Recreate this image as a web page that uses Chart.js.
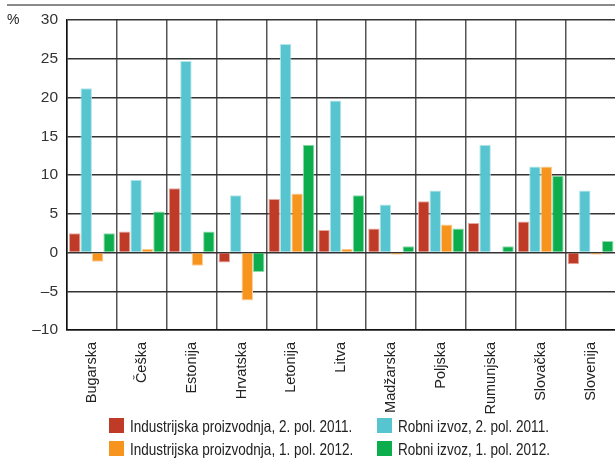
<!DOCTYPE html>
<html>
<head>
<meta charset="utf-8">
<script src="https://cdn.jsdelivr.net/npm/chart.js@4"></script>
<style>
  html, body { margin:0; padding:0; background:#fff; overflow:hidden; width:615px; height:459px; }
  #wrap { position:absolute; left:0; top:0; width:620px; height:459px; }
  .txt { position:absolute; font-family:'Liberation Sans Narrow','Arial Narrow',sans-serif; color:#222; white-space:nowrap; }
  #topline { position:absolute; left:7px; top:4px; width:610px; height:2px; background:#8a8a8a; }
  .lg { position:absolute; font-family:'Liberation Sans Narrow','Arial Narrow',sans-serif; font-size:16.5px; color:#222; white-space:nowrap; line-height:16px; transform:scaleX(0.82); transform-origin:0 50%; }
  .box { position:absolute; width:15px; height:15px; }
</style>
</head>
<body>
<div id="topline"></div>
<div id="wrap"><canvas id="c" width="620" height="459"></canvas></div>
<div class="txt" style="left:7px; top:11px; font-size:14px;">%</div>
<div id="legend"></div>
<script>
const categories = ['Bugarska','Češka','Estonija','Hrvatska','Letonija','Litva','Madžarska','Poljska','Rumunjska','Slovačka','Slovenija'];
const seriesNames = ['Industrijska proizvodnja, 2. pol. 2011.','Robni izvoz, 2. pol. 2011.','Industrijska proizvodnja, 1. pol. 2012.','Robni izvoz, 1. pol. 2012.'];
const indProd2011H2 = [2.5, 2.7, 8.3, -1.3, 6.9, 2.9, 3.1, 6.6, 3.8, 4.0, -1.5];
const exports2011H2 = [21.2, 9.4, 24.7, 7.4, 26.9, 19.6, 6.2, 8.0, 13.9, 11.1, 8.0];
const indProd2012H1 = [-1.2, 0.5, -1.7, -6.2, 7.6, 0.5, -0.3, 3.6, 0.1, 11.1, -0.3];
const exports2012H1 = [2.5, 5.3, 2.7, -2.5, 13.9, 7.4, 0.8, 3.1, 0.8, 9.9, 1.5];
const yTicks = [-10, -5, 0, 5, 10, 15, 20, 25, 30];

const colors = ['#BF3A27', '#56C5D0', '#F7941D', '#0BAD4C'];
const borders = ['#E6A89E', '#B5E6EA', '#FBD0A0', '#8FD9AB'];
const seriesData = [indProd2011H2, exports2011H2, indProd2012H1, exports2012H1];

const FONT = "'Liberation Sans Narrow','Arial Narrow',sans-serif";

new Chart(document.getElementById('c'), {
  type: 'bar',
  data: {
    labels: categories,
    datasets: seriesData.map((d, i) => ({
      label: seriesNames[i],
      data: d,
      backgroundColor: colors[i],
      borderColor: borders[i],
      borderWidth: 1,
      categoryPercentage: 0.92,
      barPercentage: 1.0
    }))
  },
  options: {
    responsive: false,
    animation: false,
    devicePixelRatio: 1,
    layout: { padding: { left: 0, right: 1, top: 20, bottom: 0 } },
    plugins: { legend: { display: false }, tooltip: { enabled: false } },
    scales: {
      x: {
        offset: true,
        grid: { offset: true, color: '#555', lineWidth: 1.5, drawTicks: false },
        border: { color: '#111', width: 1.5 },
        ticks: {
          font: { family: FONT, size: 14.5 },
          color: '#222',
          minRotation: 90, maxRotation: 90,
          padding: 12,
          autoSkip: false
        },
        afterFit: s => { s.height = 129; }
      },
      y: {
        min: -10, max: 30,
        afterBuildTicks: s => { s.ticks = yTicks.map(v => ({ value: v })); },
        grid: { color: '#333', lineWidth: 1.5, drawTicks: false },
        border: { color: '#111', width: 1.5 },
        ticks: {
          font: { family: FONT, size: 15.5 },
          color: '#333',
          padding: 9,
          callback: v => (v < 0 ? '\u2013' + Math.abs(v) : String(v))
        },
        afterFit: s => { s.width = 67; }
      }
    }
  }
});

// HTML legend, two columns
const legend = document.getElementById('legend');
const pos = [
  { x: 109, y: 418 }, { x: 377, y: 418 },
  { x: 109, y: 441 }, { x: 377, y: 441 }
];
seriesNames.forEach((n, i) => {
  const b = document.createElement('div');
  b.className = 'box';
  b.style.left = pos[i].x + 'px';
  b.style.top = pos[i].y + 'px';
  b.style.background = colors[i];
  legend.appendChild(b);
  const t = document.createElement('div');
  t.className = 'lg';
  t.style.left = (pos[i].x + 21) + 'px';
  t.style.top = (pos[i].y + 0) + 'px';
  t.textContent = n;
  legend.appendChild(t);
});
</script>
</body>
</html>
